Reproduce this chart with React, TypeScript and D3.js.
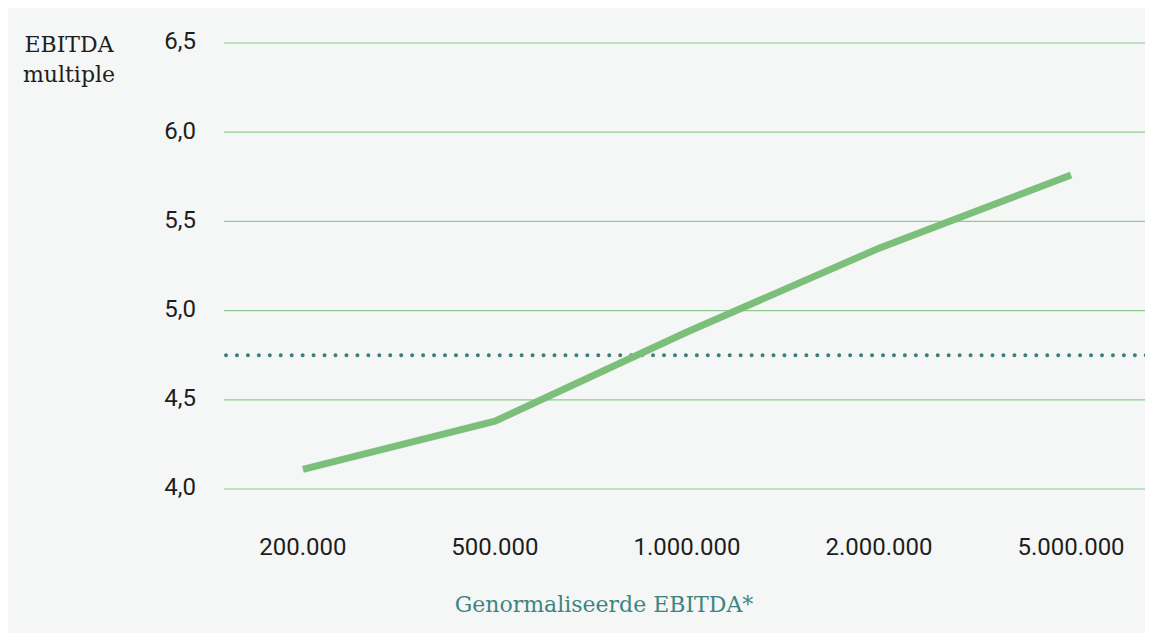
import React from "react";
import * as d3 from "d3";

const categories = ["200.000", "500.000", "1.000.000", "2.000.000", "5.000.000"];
const multiples = [4.11, 4.38, 4.88, 5.35, 5.76];
const yTicks = [4.0, 4.5, 5.0, 5.5, 6.0, 6.5];
const average = 4.75;
const yTitle = ["EBITDA", "multiple"];
const xTitle = "Genormaliseerde EBITDA*";

const W = 1137;
const H = 625;

export default function App() {
  const x = d3.scalePoint<string>().domain(categories).range([216, 1142]).padding(0.411);
  const y = d3.scaleLinear().domain([4, 6.5]).range([481, 35]);
  const line = d3
    .line<number>()
    .x((_, i) => x(categories[i]) as number)
    .y((d) => y(d));
  const fmt = (v: number) => v.toFixed(1).replace(".", ",");
  const [x0, x1] = x.range();

  return (
    <svg width={W} height={H} style={{ display: "block" }}>
      <rect x={0} y={0} width={W} height={H} fill="#f5f7f6" />
      {yTicks.map((t) => (
        <g key={t}>
          <line x1={x0} x2={x1} y1={y(t)} y2={y(t)} stroke="#8fcb8f" strokeWidth={1.2} />
          <text
            x={188}
            y={y(t)}
            textAnchor="end"
            dominantBaseline="middle"
            fontFamily="Roboto"
            fontSize={24}
            fill="#1e1e1e"
          >
            {fmt(t)}
          </text>
        </g>
      ))}
      <line
        x1={x0 + 2}
        x2={x1}
        y1={y(average)}
        y2={y(average)}
        stroke="#3a7f7b"
        strokeWidth={4}
        strokeLinecap="round"
        strokeDasharray="0 10.95"
      />
      <path d={line(multiples) ?? ""} fill="none" stroke="#7bbf7b" strokeWidth={7} />
      {categories.map((c) => (
        <text
          key={c}
          x={x(c)}
          y={541}
          textAnchor="middle"
          dominantBaseline="middle"
          fontFamily="Roboto"
          fontSize={24}
          fill="#1e1e1e"
        >
          {c}
        </text>
      ))}
      {yTitle.map((t, i) => (
        <text
          key={t}
          x={61}
          y={44 + i * 30}
          textAnchor="middle"
          fontFamily="'DejaVu Serif'"
          fontSize={22}
          fill="#1e1e1e"
        >
          {t}
        </text>
      ))}
      <text
        x={596}
        y={604}
        textAnchor="middle"
        fontFamily="'DejaVu Serif'"
        fontSize={22}
        fill="#3d8582"
      >
        {xTitle}
      </text>
    </svg>
  );
}
